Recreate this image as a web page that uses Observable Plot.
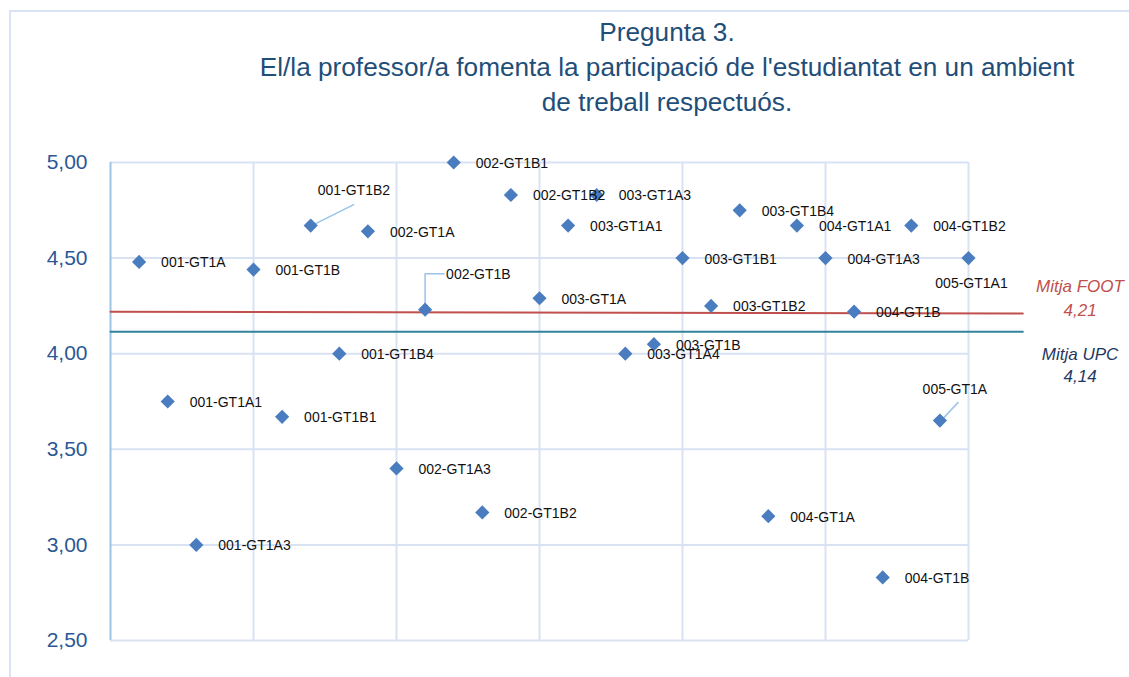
<!DOCTYPE html>
<html>
<head>
<meta charset="utf-8">
<script src="https://cdn.jsdelivr.net/npm/d3@7"></script>
<script src="https://cdn.jsdelivr.net/npm/@observablehq/plot@0.6"></script>
<style>
  html, body { margin: 0; padding: 0; background: #fff; }
  body { width: 1129px; height: 677px; position: relative; overflow: hidden; font-family: "Liberation Sans", Arial, sans-serif; }
  #frame { position: absolute; left: 9px; top: 10px; width: 1200px; height: 700px; border: 2px solid #dae3f3; box-sizing: border-box; }
  #title { position: absolute; left: 167px; width: 1000px; top: 15px; text-align: center; color: #1f4e79; font-size: 26.2px; line-height: 35px; white-space: nowrap; }
  #chart { position: absolute; left: 0; top: 130px; }
</style>
</head>
<body>
<div id="frame"></div>
<div id="title">Pregunta 3.<br>El/la professor/a fomenta la participació de l'estudiantat en un ambient<br>de treball respectuós.</div>
<div id="chart"></div>
<script>
// ---- data ----
const groupLabels = ["001-GT1A","001-GT1A1","001-GT1A3","001-GT1B","001-GT1B1","001-GT1B2","001-GT1B4","002-GT1A","002-GT1A3","002-GT1B","002-GT1B1","002-GT1B2","002-GT1B2","003-GT1A","003-GT1A1","003-GT1A3","003-GT1A4","003-GT1B","003-GT1B1","003-GT1B2","003-GT1B4","004-GT1A","004-GT1A1","004-GT1A3","004-GT1B","004-GT1B","004-GT1B2","005-GT1A","005-GT1A1"];
const groupIndex = [1,2,3,5,6,7,8,9,10,11,12,13,14,15,16,17,18,19,20,21,22,23,24,25,26,27,28,29,30];
const scores = [4.48,3.75,3.00,4.44,3.67,4.67,4.00,4.64,3.40,4.23,5.00,3.17,4.83,4.29,4.67,4.83,4.00,4.05,4.50,4.25,4.75,3.15,4.67,4.50,4.22,2.83,4.67,3.65,4.50];
const footMeanLine = [{x: 0, y: 4.22}, {x: 31.9, y: 4.21}];
const upcMeanLine = [{x: 0, y: 4.115}, {x: 31.9, y: 4.115}];
const footMeanText = ["Mitja FOOT", "4,21"];
const upcMeanText = ["Mitja UPC", "4,14"];
const yTicks = [2.5, 3, 3.5, 4, 4.5, 5];
const xGrid = [0, 5, 10, 15, 20, 25, 30];

// ---- layout ----
const W = 1129, H = 547, ML = 110, MR = 161, MT = 32, MB = 37;
const xDomain = [0, 30], yDomain = [2.5, 5];
const ux = (W - ML - MR) / (xDomain[1] - xDomain[0]);
const uy = (H - MT - MB) / (yDomain[1] - yDomain[0]);

const pts = groupLabels.map((name, i) => ({i, name, x: groupIndex[i], y: scores[i]}));

// special label placements (pixel offsets) and leader lines
const special = {
  5:  {dx: 7,  dy: -35, anchor: "start",  leader: [[1, 0], [43, -21]]},
  9:  {dx: 21, dy: -35, anchor: "start",  leader: [[19, -36], [0, -36], [0, -3]]},
  27: {dx: 15, dy: -31, anchor: "middle", leader: [[18, -18], [4, -3]]},
  28: {dx: 3,  dy: 25,  anchor: "middle", leader: null}
};
const normalPts = pts.filter(d => !(d.i in special));
const leaders = [];
for (const k in special) {
  const s = special[k], d = pts[k];
  if (!s.leader) continue;
  s.leader.forEach(([ox, oy]) => leaders.push({id: k, x: d.x + ox / ux, y: d.y - oy / uy}));
}

const textMarks = Object.keys(special).map(k => {
  const s = special[k];
  return Plot.text([pts[k]], {x: "x", y: "y", text: "name", dx: s.dx, dy: s.dy, textAnchor: s.anchor, fontSize: 14, fill: "#111"});
});

const fmt = d => d.toFixed(2).replace(".", ",");
const annX = 33.9;

const chart = Plot.plot({
  width: W, height: H,
  marginLeft: ML, marginRight: MR, marginTop: MT, marginBottom: MB,
  style: {fontFamily: "'Liberation Sans', Arial, sans-serif", background: "transparent", overflow: "visible"},
  x: {domain: xDomain, axis: null},
  y: {domain: yDomain, axis: null},
  marks: [
    Plot.ruleY(yTicks, {stroke: "#d9e2f3", strokeWidth: 2}),
    Plot.ruleX(xGrid.slice(1), {stroke: "#d9e2f3", strokeWidth: 2}),
    Plot.ruleX([xGrid[0]], {stroke: "#9dc3e6", strokeWidth: 2}),
    Plot.axisY({ticks: yTicks, tickFormat: fmt, tickSize: 0, tickPadding: 23, fontSize: 21, color: "#2b5797", label: null}),
    Plot.line(footMeanLine, {x: "x", y: "y", stroke: "#c0504d", strokeWidth: 2}),
    Plot.line(upcMeanLine, {x: "x", y: "y", stroke: "#31849b", strokeWidth: 2}),
    Plot.line(leaders, {x: "x", y: "y", z: "id", stroke: "#9dc3e6", strokeWidth: 1.5}),
    Plot.dot(pts, {x: "x", y: "y", symbol: "diamond2", r: 6.4, fill: "#4a7cc0", stroke: "none"}),
    Plot.text(normalPts, {x: "x", y: "y", text: "name", dx: 22, dy: 1, textAnchor: "start", fontSize: 14, fill: "#111"}),
    ...textMarks,
    Plot.text([footMeanText[0]], {x: () => annX, y: () => footMeanLine[1].y, text: d => d, dy: -27, fontSize: 17, fontStyle: "italic", fill: "#c0504d"}),
    Plot.text([footMeanText[1]], {x: () => annX, y: () => footMeanLine[1].y, text: d => d, dy: -3, fontSize: 17, fontStyle: "italic", fill: "#c0504d"}),
    Plot.text([upcMeanText[0]], {x: () => annX, y: () => upcMeanLine[1].y, text: d => d, dy: 23, fontSize: 17, fontStyle: "italic", fill: "#1f3864"}),
    Plot.text([upcMeanText[1]], {x: () => annX, y: () => upcMeanLine[1].y, text: d => d, dy: 45, fontSize: 17, fontStyle: "italic", fill: "#1f3864"})
  ]
});
document.getElementById("chart").appendChild(chart);
</script>
</body>
</html>
